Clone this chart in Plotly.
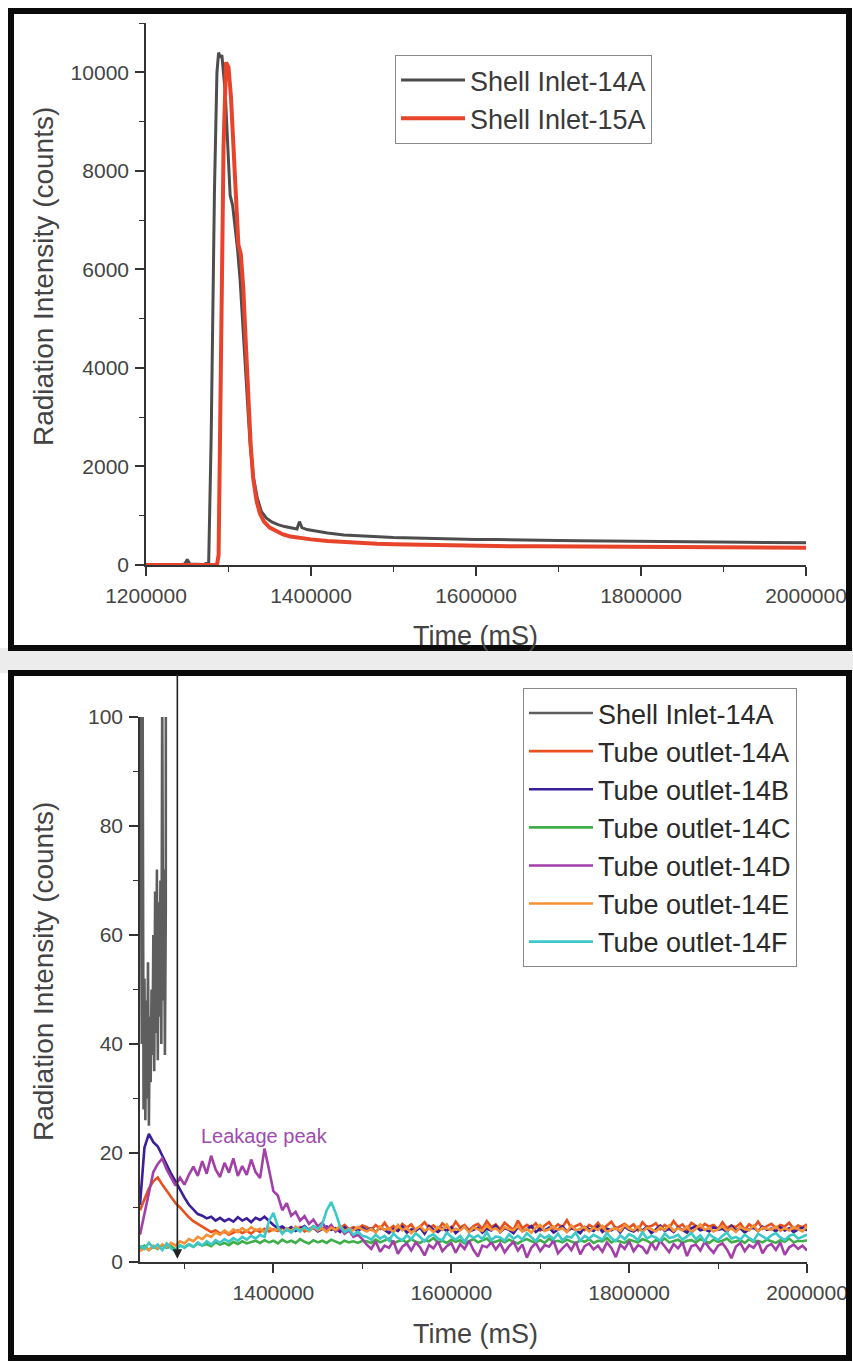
import plotly.graph_objects as go

# ---------------- DATA ----------------
# Top panel: shell inlet detectors (Time in mS, intensity in counts)
top_time_14a = [1200000, 1240000, 1247000, 1250000, 1253000, 1260000, 1270000, 1276000, 1279000, 1283000,
                1286000, 1288000, 1290000, 1292000, 1296000, 1300000, 1302000, 1305000, 1308000, 1311000,
                1314000, 1317000, 1320000, 1323000, 1326000, 1330000, 1335000, 1340000, 1346000, 1353000,
                1360000, 1368000, 1376000, 1383000, 1386000, 1389000, 1395000, 1405000, 1420000, 1440000,
                1460000, 1480000, 1500000, 1525000, 1550000, 1575000, 1600000, 1625000, 1650000, 1675000,
                1700000, 1725000, 1750000, 1775000, 1800000, 1825000, 1850000, 1875000, 1900000, 1925000,
                1950000, 1975000, 2000000]
top_shell_14a = [0, 0, 20, 110, 20, 10, 10, 60, 2600, 7600,
                 10000, 10400, 10300, 10350, 9600, 8200, 7500, 7300, 6900, 6400,
                 5800, 5000, 4200, 3200, 2500, 1800, 1350, 1080, 950, 870,
                 820, 780, 750, 730, 880, 760, 720, 690, 650, 610,
                 590, 575, 560, 550, 535, 530, 520, 515, 505, 500,
                 495, 490, 488, 482, 478, 475, 470, 468, 465, 462,
                 458, 455, 452]

top_time_15a = [1200000, 1250000, 1286000, 1288000, 1291000, 1294000, 1297000, 1300000, 1303000, 1306000,
                1309000, 1312000, 1315000, 1318000, 1321000, 1324000, 1327000, 1330000, 1334000, 1338000,
                1343000, 1350000, 1358000, 1366000, 1375000, 1385000, 1400000, 1420000, 1440000, 1460000,
                1480000, 1500000, 1525000, 1550000, 1575000, 1600000, 1625000, 1650000, 1675000, 1700000,
                1725000, 1750000, 1775000, 1800000, 1825000, 1850000, 1875000, 1900000, 1925000, 1950000,
                1975000, 2000000]
top_shell_15a = [0, 0, 0, 200, 4000, 8500, 10200, 10100, 9500, 8400,
                 7300, 6500, 6300, 5600, 4500, 3300, 2400, 1750, 1300, 1050,
                 880, 760, 680, 620, 580, 550, 520, 485, 460, 445,
                 430, 420, 410, 400, 395, 390, 385, 380, 378, 375,
                 372, 370, 368, 365, 362, 360, 358, 356, 355, 353,
                 352, 350]

# Bottom panel: shell inlet (low-count view)
low_time_shell = [1250000, 1251000, 1252000, 1253000, 1254000, 1255000, 1256000, 1257000, 1258000, 1259000,
                  1260000, 1261000, 1262000, 1263000, 1264000, 1265000, 1266000, 1267000, 1268000, 1269000,
                  1270000, 1271000, 1272000, 1273000, 1274000, 1275000, 1276000, 1277000, 1278000, 1279000,
                  1281000, 1284000, 1290000, 1300000, 1400000, 2000000]
low_shell_14a = [130, 85, 40, 100, 28, 52, 26, 48, 30, 55,
                 25, 45, 33, 50, 38, 60, 35, 68, 42, 72,
                 37, 66, 45, 70, 40, 105, 48, 72, 38, 65,
                 400, 3000, 10000, 8000, 700, 450]

# Bottom panel: tube outlet detectors, sampled every 5000 mS from 1250000 to 2000000
tube_time = list(range(1250000, 2000001, 5000))

tube_14a = [9.5, 11.5, 13.5, 14.8, 15.5, 14.2, 13.0, 12.0, 10.8, 10.0,
            9.0, 8.2, 7.5, 7.0, 6.5, 6.0, 5.5, 5.8, 5.2, 5.6,
            5.0, 5.4, 5.8, 5.3, 5.7, 5.2, 5.9, 5.5, 6.1, 5.6,
            6.0, 5.7, 6.3, 5.8, 6.2, 5.9, 6.4, 5.6, 6.1, 6.5,
            5.8, 6.3, 6.0, 6.6, 5.9, 6.2, 6.8, 6.0, 6.4, 6.1,
            6.7,
            6.4, 5.9, 6.8, 6.1, 7.2, 6.0, 6.6, 5.8, 7.0, 6.3,
            6.9, 5.7, 6.5, 7.3, 6.2, 6.7, 5.9, 7.1, 6.4, 6.0,
            7.4, 6.3, 6.8, 5.8, 6.6, 7.0, 6.1, 7.5, 6.4, 6.9,
            6.0, 7.2, 6.5, 5.9, 7.6, 6.2, 6.8, 6.3, 7.1, 5.8,
            6.7, 7.3, 6.1, 6.9, 6.4, 7.7, 6.2, 6.6, 7.0, 5.9,
            6.8, 6.3, 7.2, 6.0, 6.7, 7.4, 6.1, 6.5, 7.0, 6.3,
            6.9, 5.8, 7.3, 6.4, 6.6, 7.1, 6.0, 6.8, 6.2, 7.5,
            6.4, 6.9, 5.9, 7.2, 6.6, 6.1, 7.0, 6.5, 6.8, 6.0,
            7.3, 6.2, 6.7, 6.4, 7.1, 5.9, 6.9, 6.3, 7.4, 6.1,
            6.6, 7.0, 6.2, 6.8, 6.5, 7.2, 6.0, 6.7, 6.4, 6.9]

tube_14b = [10.5, 21.0, 23.5, 22.0, 21.2, 19.5, 18.0, 16.2, 14.8, 13.2,
            11.8, 10.5, 9.6, 8.8, 8.5, 8.0, 8.3, 7.6, 8.1, 7.5,
            7.9, 7.4, 8.2, 7.6, 8.0, 7.3, 8.1, 7.7, 8.3, 7.5,
            6.8, 6.2, 6.5, 5.9, 6.4, 5.7, 6.1, 6.6, 5.8, 6.3,
            5.6, 6.0, 6.5, 5.9, 6.2, 5.5, 6.4, 5.8, 6.1, 5.7,
            6.3,
            5.8, 6.2, 5.5, 6.4, 5.9, 5.3, 6.1, 5.7, 6.5, 5.4,
            6.0, 5.8, 6.3, 5.2, 6.6, 5.9, 5.5, 6.2, 5.7, 6.4,
            5.3, 6.0, 6.5, 5.6, 5.9, 6.3, 5.4, 6.1, 5.8, 6.7,
            5.5, 6.2, 5.9, 5.3, 6.4, 5.7, 6.0, 6.6, 5.5, 6.1,
            5.8, 6.3, 5.4, 6.0, 6.5, 5.6, 6.2, 5.9, 5.3, 6.4,
            6.0, 5.7, 6.6, 5.5, 6.1, 5.8, 6.3, 5.4, 6.5, 5.9,
            5.6, 6.2, 5.8, 6.4, 5.3, 6.0, 6.7, 5.7, 6.1, 5.5,
            6.3, 5.9, 5.4, 6.2, 6.5, 5.8, 6.0, 5.6, 6.4, 5.9,
            6.1, 5.5, 6.6, 5.8, 6.2, 5.4, 6.0, 6.3, 5.7, 6.5,
            5.9, 6.1, 5.6, 6.4, 5.8, 6.2, 5.5, 6.0, 6.3, 5.8]

tube_14c = [2.5, 3.0, 2.2, 2.8, 2.4, 3.1, 2.6, 2.9, 2.3, 3.0,
            2.7, 3.2, 2.8, 3.4, 3.0, 3.3, 2.9, 3.6, 3.2, 3.5,
            3.1, 3.7, 3.3, 3.8, 3.4, 3.6, 3.9, 3.5, 4.0, 3.6,
            3.9, 3.4, 4.1, 3.6, 3.9, 3.5, 4.2, 3.7, 3.4, 4.0,
            3.6, 3.9, 3.5, 4.1, 3.7, 3.4, 3.9, 3.6, 3.8, 3.5,
            3.9,
            3.8, 3.5, 4.1, 3.6, 3.9, 4.3, 3.4, 3.8, 4.0, 3.6,
            4.2, 3.7, 3.5, 4.0, 3.8, 4.4, 3.6, 3.9, 3.5, 4.1,
            3.7, 4.0, 3.4, 3.8, 4.2, 3.6, 3.9, 4.3, 3.5, 3.8,
            4.0, 3.6, 4.1, 3.7, 3.4, 3.9, 4.2, 3.8, 3.6, 4.0,
            3.5, 4.3, 3.7, 3.9, 3.6, 4.1, 3.8, 3.4, 4.0, 3.7,
            4.2, 3.5, 3.9, 3.8, 4.4, 3.6, 4.0, 3.7, 3.5, 4.1,
            3.8, 3.6, 4.2, 3.9, 3.4, 4.0, 3.7, 4.3, 3.6, 3.8,
            4.1, 3.5, 3.9, 4.0, 3.6, 4.2, 3.8, 3.5, 4.1, 3.7,
            3.9, 4.3, 3.6, 3.8, 4.0, 3.5, 4.2, 3.7, 3.9, 3.6,
            4.1, 3.8, 3.5, 4.0, 3.7, 4.3, 3.6, 3.9, 3.8, 4.0]

tube_14d = [5.0, 9.0, 13.0, 16.5, 18.0, 19.0, 17.0, 15.5, 14.0, 15.5,
            14.2, 16.0, 17.5, 15.8, 18.5, 16.2, 19.5, 17.0, 15.6, 18.2,
            16.4, 19.0, 15.8, 17.6, 16.0, 18.8, 16.5, 15.4, 20.8, 17.0,
            13.0, 12.2, 9.5, 10.8, 8.5, 9.2, 7.6, 8.4, 7.0, 7.8,
            6.5, 7.2, 6.0, 6.8, 5.6, 6.3, 5.2, 5.8, 4.6, 5.0,
            4.2,
            3.2, 2.4, 3.8, 1.9, 3.0, 2.6, 3.9, 1.5, 2.8, 3.4,
            2.1, 3.6, 2.7, 1.2, 3.1, 2.5, 3.8, 2.0, 2.9, 3.5,
            1.7, 3.3, 2.4, 3.9, 2.2, 1.0, 3.0, 2.7, 3.6, 2.3,
            3.4, 1.8, 2.9, 3.7, 2.1, 3.2, 0.8, 2.6, 3.5, 2.0,
            3.1, 2.8, 3.9, 1.6, 2.5, 3.3, 2.2, 3.7, 1.4, 2.9,
            3.4, 2.3, 3.0, 1.9, 3.6, 2.6, 0.9, 3.2, 2.4, 3.8,
            2.0, 3.1, 2.7, 1.5, 3.5, 2.2, 3.9, 2.8, 1.8, 3.3,
            2.5, 3.6, 1.1, 2.9, 3.2, 2.1, 3.7, 2.6, 1.7, 3.0,
            3.4, 2.3, 0.7, 2.8, 3.5, 2.0, 3.1, 2.6, 3.8, 1.6,
            2.9, 3.3, 2.2, 3.6, 1.3, 2.7, 3.2, 2.4, 3.0, 2.1]

tube_14e = [2.0, 2.6, 2.2, 3.0, 2.5, 3.2, 2.8, 3.5, 3.0, 3.8,
            3.4, 4.2, 3.8, 4.6, 4.2, 5.0, 4.6, 5.4, 5.0, 5.8,
            5.2, 6.0, 5.5, 6.2, 5.6, 6.4, 5.8, 6.1, 5.5, 6.3,
            5.8, 6.0, 5.4, 6.2, 5.7, 6.5, 5.9, 6.1, 5.6, 6.4,
            5.8, 6.2, 5.5, 6.3, 5.9, 6.6, 5.7, 6.1, 5.8, 6.4,
            6.0,
            5.6, 6.1, 5.4, 6.5, 5.9, 6.2, 5.5, 6.8, 5.8, 6.3,
            5.3, 6.0, 6.6, 5.7, 6.2, 5.5, 6.4, 5.9, 6.9, 5.6,
            6.1, 5.8, 6.5, 5.4, 6.3, 6.0, 5.7, 6.7, 5.9, 6.2,
            5.5, 6.4, 6.0, 5.8, 6.6, 5.6, 6.1, 5.4, 6.3, 6.8,
            5.7, 6.0, 6.5, 5.9, 6.2, 5.5, 6.7, 5.8, 6.1, 6.4,
            5.6, 6.3, 5.9, 6.6, 5.4, 6.0, 6.2, 5.7, 6.8, 6.1,
            5.8, 6.5, 5.5, 6.3, 6.0, 5.6, 6.4, 5.9, 6.7, 5.7,
            6.2, 5.8, 6.5, 5.4, 6.1, 6.9, 5.9, 6.3, 5.6, 6.0,
            6.6, 5.7, 6.2, 5.5, 6.4, 6.0, 5.8, 6.7, 5.6, 6.3,
            6.1, 5.9, 6.5, 5.7, 6.2, 5.8, 6.4, 6.0, 5.6, 6.6]

tube_14f = [3.0, 2.4, 3.5, 2.6, 3.2, 2.2, 3.4, 2.5, 2.0, 3.1,
            2.6, 3.3, 2.8, 3.6, 3.0, 3.8, 3.2, 4.0, 3.5, 4.2,
            3.7, 4.4, 3.9, 4.6, 4.1, 4.8, 4.3, 5.0, 4.6, 7.5,
            9.0, 6.5, 5.2, 6.0, 5.4, 6.2, 5.6, 6.4, 5.8, 6.6,
            6.0, 7.0, 9.5, 11.0, 9.0, 6.5, 5.5, 6.0, 5.0, 5.6,
            4.8,
            4.6, 4.1, 5.0, 4.3, 4.8, 3.9, 5.2, 4.4, 4.0, 4.9,
            4.2, 5.3, 4.5, 3.8, 4.7, 5.1, 4.3, 4.0, 5.4, 4.6,
            4.1, 4.8, 3.7, 5.0, 4.4, 4.9, 4.2, 5.5, 4.0, 4.7,
            4.5, 3.9, 5.1, 4.3, 4.8, 4.1, 5.3, 4.6, 3.8, 5.0,
            4.4, 4.9, 4.2, 5.2, 4.0, 4.7, 4.5, 5.4, 3.9, 4.8,
            4.3, 5.0, 4.6, 4.1, 5.3, 4.4, 3.8, 4.9, 4.2, 5.1,
            4.7, 4.0, 5.5, 4.3, 4.8, 4.5, 3.9, 5.2, 4.4, 4.6,
            5.0, 4.1, 4.7, 5.3, 4.2, 4.9, 3.8, 5.1, 4.5, 4.0,
            4.8, 5.4, 4.3, 4.6, 4.1, 5.0, 4.4, 3.9, 5.2, 4.7,
            4.2, 4.9, 5.3, 4.5, 4.0, 4.8, 5.1, 4.3, 4.6, 5.0]

leak_marker_time = 1292000

top_x_ticks = [1200000, 1400000, 1600000, 1800000, 2000000]
top_x_labels = ["1200000", "1400000", "1600000", "1800000", "2000000"]
top_y_ticks = [0, 2000, 4000, 6000, 8000, 10000]
top_y_labels = ["0", "2000", "4000", "6000", "8000", "10000"]
bot_x_ticks = [1400000, 1600000, 1800000, 2000000]
bot_x_labels = ["1400000", "1600000", "1800000", "2000000"]
bot_y_ticks = [0, 20, 40, 60, 80, 100]
bot_y_labels = ["0", "20", "40", "60", "80", "100"]

# ---------------- FIGURE ----------------
W, H = 853, 1362
def fx(p):
    return p / W
def fy(p):
    return 1 - p / H

FONT = "Liberation Sans, Arial, sans-serif"
fig = go.Figure()

fig.add_trace(go.Scatter(x=top_time_14a, y=top_shell_14a, mode="lines", name="Shell Inlet-14A",
                         line=dict(color="#4d4d4d", width=3), xaxis="x", yaxis="y", legend="legend"))
fig.add_trace(go.Scatter(x=top_time_15a, y=top_shell_15a, mode="lines", name="Shell Inlet-15A",
                         line=dict(color="#e8432b", width=4), xaxis="x", yaxis="y", legend="legend"))

bottom_series = [
    ("Shell Inlet-14A", low_time_shell, low_shell_14a, "#5e5e5e"),
    ("Tube outlet-14A", tube_time, tube_14a, "#e8501e"),
    ("Tube outlet-14B", tube_time, tube_14b, "#3b1f99"),
    ("Tube outlet-14C", tube_time, tube_14c, "#3fae49"),
    ("Tube outlet-14D", tube_time, tube_14d, "#a23fa8"),
    ("Tube outlet-14E", tube_time, tube_14e, "#f59035"),
    ("Tube outlet-14F", tube_time, tube_14f, "#3cc8c8"),
]
for name, xs, ys, col in bottom_series:
    fig.add_trace(go.Scatter(x=xs, y=ys, mode="lines", name=name,
                             line=dict(color=col, width=2.6), xaxis="x2", yaxis="y2", legend="legend2"))

axis_common = dict(showline=True, linecolor="#333", linewidth=1.6, ticks="outside", ticklen=9,
                   tickwidth=1.5, tickcolor="#333", showgrid=False, zeroline=False, automargin=False,
                   tickfont=dict(family=FONT, size=21, color="#444"), ticklabelstandoff=2)

fig.update_layout(
    template="none",
    width=W, height=H, margin=dict(l=0, r=0, t=0, b=0, pad=0, autoexpand=False),
    paper_bgcolor="white", plot_bgcolor="white",
    xaxis=dict(domain=[fx(146), fx(806)], range=[1200000, 2000000], anchor="y",
               tickmode="array", tickvals=top_x_ticks, ticktext=top_x_labels,
               minor=dict(ticks="outside", ticklen=5, tickwidth=1.3, tickcolor="#333", tick0=1200000, dtick=100000),
               **axis_common),
    yaxis=dict(domain=[fy(565), fy(23)], range=[0, 11000], anchor="x",
               tickmode="array", tickvals=top_y_ticks, ticktext=top_y_labels,
               minor=dict(ticks="outside", ticklen=5, tickwidth=1.3, tickcolor="#333", tick0=0, dtick=1000),
               **axis_common),
    xaxis2=dict(domain=[fx(140), fx(807)], range=[1250000, 2000000], anchor="y2",
                tickmode="array", tickvals=bot_x_ticks, ticktext=bot_x_labels,
                minor=dict(ticks="outside", ticklen=5, tickwidth=1.3, tickcolor="#333", tick0=1300000, dtick=100000),
                **axis_common),
    yaxis2=dict(domain=[fy(1262), fy(717)], range=[0, 100], anchor="x2",
                tickmode="array", tickvals=bot_y_ticks, ticktext=bot_y_labels,
                minor=dict(ticks="outside", ticklen=5, tickwidth=1.3, tickcolor="#333", tick0=0, dtick=10),
                **axis_common),
    legend=dict(x=fx(395), y=fy(55), xanchor="left", yanchor="top", bgcolor="white",
                bordercolor="#8a8a8a", borderwidth=1, itemwidth=64,
                font=dict(family=FONT, size=27, color="#3a3a3a")),
    legend2=dict(x=fx(523), y=fy(688), xanchor="left", yanchor="top", bgcolor="white",
                 bordercolor="#8a8a8a", borderwidth=1, itemwidth=64,
                 font=dict(family=FONT, size=27, color="#2a2a2a")),
    showlegend=True,
)

title_font = dict(family=FONT, size=28, color="#444")
fig.add_annotation(text="Radiation Intensity (counts)", xref="paper", yref="paper", x=fx(43), y=fy(277),
                   textangle=-90, showarrow=False, font=title_font, xanchor="center", yanchor="middle")
fig.add_annotation(text="Radiation Intensity (counts)", xref="paper", yref="paper", x=fx(43), y=fy(972),
                   textangle=-90, showarrow=False, font=title_font, xanchor="center", yanchor="middle")
fig.add_annotation(text="Time (mS)", xref="paper", yref="paper", x=fx(476), y=fy(636),
                   showarrow=False, font=dict(family=FONT, size=27, color="#444"), xanchor="center", yanchor="middle")
fig.add_annotation(text="Time (mS)", xref="paper", yref="paper", x=fx(476), y=fy(1334),
                   showarrow=False, font=dict(family=FONT, size=27, color="#444"), xanchor="center", yanchor="middle")
fig.add_annotation(text="Leakage peak", xref="x2", yref="y2", x=1390000, y=23.1,
                   showarrow=False, font=dict(family=FONT, size=20, color="#a04ab0"), xanchor="center", yanchor="middle")
fig.add_annotation(text="", xref="x2", yref="y2", x=leak_marker_time, y=0.6, ax=0, ay=-(1259 - 673),
                   showarrow=True, arrowhead=2, arrowsize=1.2, arrowwidth=1.6, arrowcolor="#222", standoff=0)

# panel frames and the gap between panels
fig.add_shape(type="rect", xref="paper", yref="paper", x0=0, x1=1, y0=fy(673), y1=fy(648),
              fillcolor="#ececec", line=dict(width=0), layer="below")
fig.add_shape(type="rect", xref="paper", yref="paper", x0=fx(11), x1=fx(849), y0=fy(648), y1=fy(11),
              line=dict(color="#0a0a0a", width=6), fillcolor="rgba(0,0,0,0)")
fig.add_shape(type="rect", xref="paper", yref="paper", x0=fx(11), x1=fx(849), y0=fy(1358), y1=fy(673),
              line=dict(color="#0a0a0a", width=6), fillcolor="rgba(0,0,0,0)")

fig.write_html("out.html")
